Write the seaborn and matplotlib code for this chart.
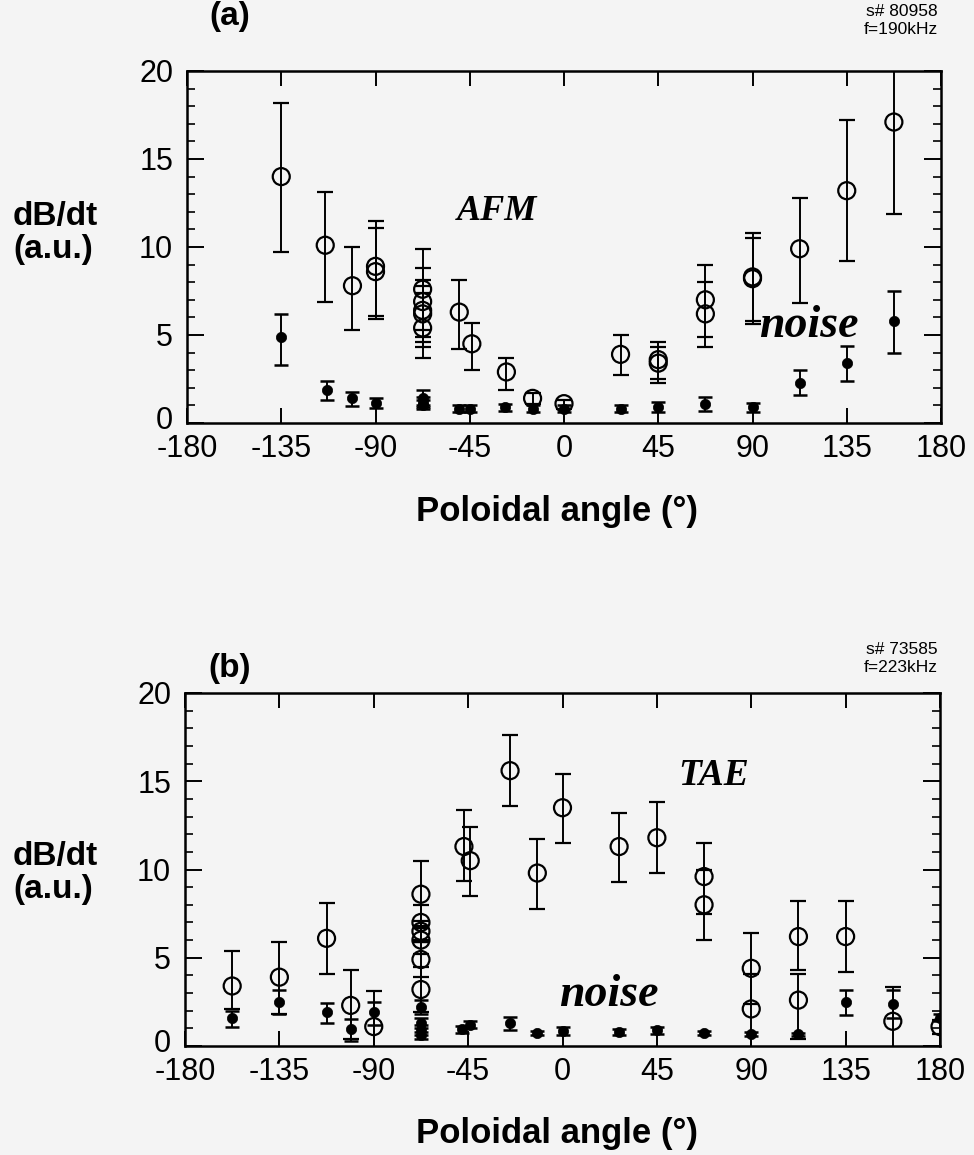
import numpy as np
import matplotlib
matplotlib.use("Agg")
import matplotlib.pyplot as plt
import matplotlib.transforms as mtransforms
import seaborn as sns

# ---------------- data ----------------
# Panel (a): AFM, shot 80958
afm_angle = [-135, -114, -101, -90, -90, -67.5, -67.5, -67.5, -67.5, -67.5, -50, -44, -27.5, -15, 0,
             27, 45, 45, 67.5, 67.5, 90, 90, 112.5, 135, 157.5]
afm_value = [14.0, 10.1, 7.8, 8.9, 8.6, 7.6, 6.9, 6.4, 6.2, 5.4, 6.3, 4.5, 2.9, 1.4, 1.1,
             3.9, 3.6, 3.4, 7.0, 6.2, 8.3, 8.2, 9.9, 13.2, 17.1]
afm_hi = [18.2, 13.1, 10.0, 11.5, 11.1, 9.9, 8.8, 8.1, 7.8, 7.4, 8.1, 5.7, 3.7, 1.7, 1.3,
          5.0, 4.6, 4.3, 9.0, 8.0, 10.8, 10.5, 12.8, 17.2, 22.3]
afm_lo = [9.7, 6.9, 5.3, 6.1, 5.9, 5.3, 4.9, 4.6, 4.3, 3.7, 4.2, 3.0, 1.9, 1.1, 0.8,
          2.7, 2.5, 2.3, 4.9, 4.3, 5.6, 5.8, 6.8, 9.2, 11.9]

noise_a_angle = [-135, -113, -101, -90, -67.5, -67.5, -67.5, -50, -45, -28, -15, 0, 27, 45, 67.5, 90,
                 112.5, 135, 157.5]
noise_a_value = [4.9, 1.9, 1.4, 1.15, 1.4, 1.2, 1.0, 0.8, 0.8, 0.9, 0.8, 0.8, 0.8, 0.9, 1.1, 0.9,
                 2.3, 3.4, 5.8]
noise_a_hi = [6.2, 2.4, 1.75, 1.4, 1.85, 1.5, 1.3, 1.0, 1.0, 1.1, 1.0, 1.0, 1.0, 1.2, 1.5, 1.15,
              3.0, 4.4, 7.5]
noise_a_lo = [3.3, 1.3, 0.95, 0.85, 1.0, 0.9, 0.8, 0.65, 0.65, 0.7, 0.6, 0.6, 0.65, 0.6, 0.7, 0.6,
              1.6, 2.4, 4.0]

# Panel (b): TAE, shot 73585
tae_angle = [-157.5, -135, -112.5, -101, -90, -67.5, -67.5, -67.5, -67.5, -67.5, -67.5, -47, -44, -25,
             -12, 0, 27, 45, 67.5, 67.5, 90, 90, 112.5, 112.5, 135, 157.5, 180]
tae_value = [3.4, 3.9, 6.1, 2.3, 1.1, 8.6, 7.0, 6.5, 6.0, 4.9, 3.2, 11.3, 10.5, 15.6,
             9.8, 13.5, 11.3, 11.8, 9.6, 8.0, 4.4, 2.1, 6.2, 2.6, 6.2, 1.4, 1.1]
tae_hi = [5.4, 5.9, 8.1, 4.3, 3.1, 10.5, 8.0, 7.1, 6.8, 5.9, 4.5, 13.35, 12.4, 17.6,
          11.7, 15.4, 13.2, 13.8, 11.5, 10.0, 6.4, 4.1, 8.2, 4.1, 8.2, 3.35, 1.5]
tae_lo = [2.1, 1.8, 4.1, 0.4, -0.5, 6.7, 6.0, 5.9, 5.2, 3.9, 1.9, 9.35, 8.5, 13.6,
          7.75, 11.5, 9.3, 9.8, 7.5, 6.0, 2.4, -0.5, 4.3, 0.4, 4.2, -0.5, 0.7]

noise_b_angle = [-157.5, -135, -112.5, -101, -90, -67.5, -67.5, -67.5, -67.5, -48, -44, -25, -12, 0,
                 27, 45, 67.5, 90, 112.5, 135, 157.5, 180]
noise_b_value = [1.6, 2.5, 1.9, 0.95, 1.9, 2.2, 1.3, 0.9, 0.6, 0.95, 1.2, 1.3, 0.72, 0.85,
                 0.8, 0.9, 0.72, 0.68, 0.66, 2.5, 2.4, 1.6]
noise_b_hi = [2.0, 3.2, 2.45, 1.55, 2.5, 2.6, 1.6, 1.2, 0.8, 1.15, 1.4, 1.65, 0.85, 1.05,
              0.95, 1.1, 0.85, 0.8, 0.75, 3.2, 3.2, 1.8]
noise_b_lo = [1.1, 1.8, 1.3, 0.3, 1.2, 1.8, 1.0, 0.6, 0.4, 0.75, 1.0, 0.9, 0.6, 0.65,
              0.65, 0.7, 0.6, 0.55, 0.55, 1.75, 1.6, 1.4]

x_ticks = [-180, -135, -90, -45, 0, 45, 90, 135, 180]
y_ticks = [0, 5, 10, 15, 20]

# ---------------- style ----------------
sns.set_theme(style="ticks")
plt.rcParams["font.family"] = ["Liberation Sans", "DejaVu Sans"]
for k in ["text.color", "axes.labelcolor", "xtick.color", "ytick.color", "axes.edgecolor"]:
    plt.rcParams[k] = "black"
BG = "#f4f4f4"

W, H = 974, 1155
fig = plt.figure(figsize=(W / 100, H / 100), dpi=100, facecolor=BG)


def px(x, y):
    return x / W, 1 - y / H


def draw_panel(ax, a_x, a_y, a_hi, a_lo, n_x, n_y, n_hi, n_lo):
    ax.set_facecolor(BG)
    a_y = np.array(a_y); n_y = np.array(n_y)
    ax.errorbar(a_x, a_y, yerr=[a_y - np.array(a_lo), np.array(a_hi) - a_y], fmt="none",
                ecolor="black", elinewidth=1.4, capsize=6, capthick=1.6, zorder=2)
    ax.errorbar(n_x, n_y, yerr=[n_y - np.array(n_lo), np.array(n_hi) - n_y], fmt="none",
                ecolor="black", elinewidth=1.4, capsize=5, capthick=1.8, zorder=2)
    sns.scatterplot(x=a_x, y=a_y, ax=ax, marker="o", s=150, facecolor="none",
                    edgecolor="black", linewidth=1.6, zorder=3)
    sns.scatterplot(x=n_x, y=n_y, ax=ax, marker="o", s=55, color="black",
                    edgecolor="black", linewidth=0.5, zorder=3)
    ax.set_xlim(-180, 180)
    ax.set_ylim(0, 20)
    ax.set_xticks(x_ticks)
    ax.set_xticklabels([str(t) for t in x_ticks])
    ax.set_yticks(y_ticks)
    ax.set_yticks(np.arange(0, 21, 1), minor=True)
    ax.tick_params(axis="x", which="major", direction="in", length=11, width=1.4,
                   top=True, bottom=True, labelsize=22, pad=8, colors="black")
    ax.tick_params(axis="y", which="major", direction="in", length=12, width=1.4,
                   left=True, right=True, labelsize=22, pad=10, colors="black")
    ax.tick_params(axis="y", which="minor", direction="in", length=6, width=1.2,
                   left=True, right=True)
    for s in ax.spines.values():
        s.set_visible(True)
        s.set_linewidth(1.8)
        s.set_color("black")
    ax.set_xlabel("")
    ax.set_ylabel("")
    # lift the "0" y tick label slightly so it sits just above "-180"
    lbl0 = ax.get_yticklabels()[0]
    lbl0.set_transform(lbl0.get_transform() +
                       mtransforms.ScaledTranslation(0, 4 / 72, fig.dpi_scale_trans))


# Panel (a)
ax1 = fig.add_axes([187 / W, 1 - 423 / H, (941 - 187) / W, (423 - 71) / H])
draw_panel(ax1, afm_angle, afm_value, afm_hi, afm_lo,
           noise_a_angle, noise_a_value, noise_a_hi, noise_a_lo)
ax1.text(-32, 12.0, "AFM", family="Liberation Serif", fontweight="bold", fontstyle="italic",
         fontsize=26, ha="center", va="center")
ax1.text(117, 5.5, "noise", family="Liberation Serif", fontweight="bold", fontstyle="italic",
         fontsize=33, ha="center", va="center")

# Panel (b)
ax2 = fig.add_axes([185 / W, 1 - 1046 / H, (940 - 185) / W, (1046 - 693) / H])
draw_panel(ax2, tae_angle, tae_value, tae_hi, tae_lo,
           noise_b_angle, noise_b_value, noise_b_hi, noise_b_lo)
ax2.text(72, 15.3, "TAE", family="Liberation Serif", fontweight="bold", fontstyle="italic",
         fontsize=27, ha="center", va="center")
ax2.text(22, 2.9, "noise", family="Liberation Serif", fontweight="bold", fontstyle="italic",
         fontsize=33, ha="center", va="center")

# figure texts
for (lab, ly, yl, xl, s1, s2, sy) in [("(a)", 17, 233, 512, "s# 80958", "f=190kHz", 12),
                                      ("(b)", 668, 873, 1133, "s# 73585", "f=223kHz", 650)]:
    fig.text(*px(230, ly), lab, fontsize=24, fontweight="bold", ha="center", va="center")
    fig.text(*px(938, sy), s1, fontsize=12.5, ha="right", va="center")
    fig.text(*px(938, sy + 18), s2, fontsize=12.5, ha="right", va="center")
    fig.text(*px(13, yl), "dB/dt\n(a.u.)", fontsize=24, fontweight="bold", ha="left",
             va="center", linespacing=1.1)
    fig.text(*px(557, xl), "Poloidal angle (°)", fontsize=25, fontweight="bold",
             ha="center", va="center")

fig.savefig("out.png", dpi=100, facecolor=BG)
